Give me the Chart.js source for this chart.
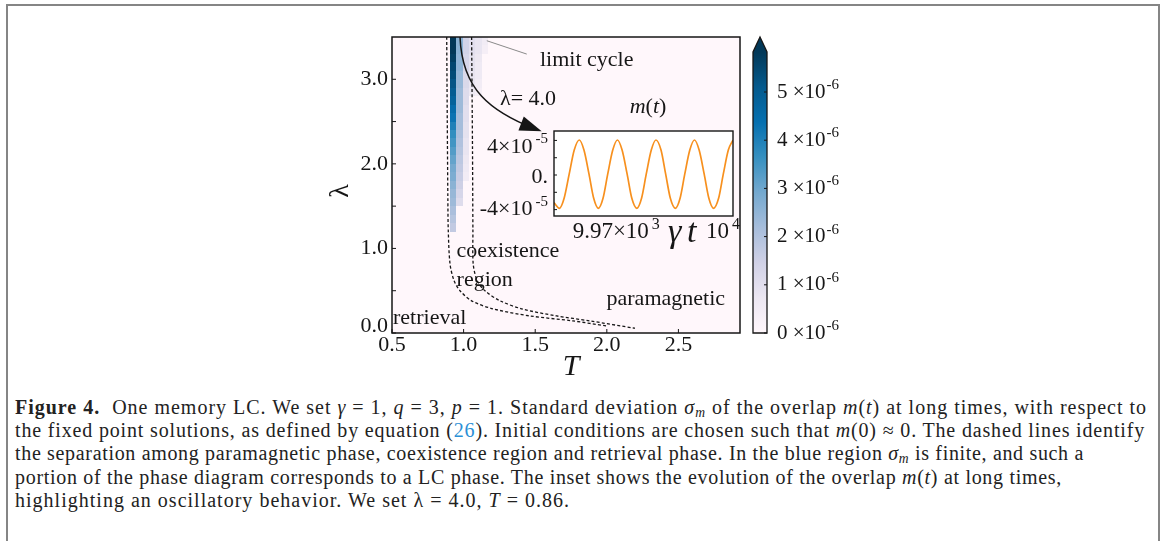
<!DOCTYPE html>
<html>
<head>
<meta charset="utf-8">
<script src="https://cdn.jsdelivr.net/npm/chart.js@4.4.1/dist/chart.umd.min.js"></script>
<style>
  html, body { margin: 0; padding: 0; background: #fff; width: 1165px; height: 541px; overflow: hidden; }
  #frame { position: absolute; left: 6px; top: 4px; width: 1154px; height: 600px; border: 2px solid #858585; border-bottom: none; box-sizing: border-box; }
  canvas { position: absolute; }
  #main { left: 0; top: 0; }
  #inset { left: 470px; top: 110px; }
  #cbar { left: 740px; top: 30px; }
  #caption { position: absolute; left: 15px; top: 396px; font-family: "Liberation Serif", serif; font-size: 20px; line-height: 23.2px; color: #222; }
  #caption div { white-space: nowrap; }
  #caption sub { font-size: 0.68em; vertical-align: -0.22em; line-height: 0; }
  .ref { color: #2b8fd6; }
</style>
</head>
<body>
<div id="frame"></div>
<canvas id="main" width="1165" height="390"></canvas>
<canvas id="inset" width="290" height="150"></canvas>
<canvas id="cbar" width="130" height="320"></canvas>
<div id="caption">
  <div><span><b>Figure 4.</b>&nbsp; One memory LC. We set <i>γ</i> = 1, <i>q</i> = 3, <i>p</i> = 1. Standard deviation <i>σ<sub>m</sub></i> of the overlap <i>m</i>(<i>t</i>) at long times, with respect to</span></div>
  <div><span>the fixed point solutions, as defined by equation (<span class="ref">26</span>). Initial conditions are chosen such that <i>m</i>(0) ≈ 0. The dashed lines identify</span></div>
  <div><span>the separation among paramagnetic phase, coexistence region and retrieval phase. In the blue region <i>σ<sub>m</sub></i> is finite, and such a</span></div>
  <div><span>portion of the phase diagram corresponds to a LC phase. The inset shows the evolution of the overlap <i>m</i>(<i>t</i>) at long times,</span></div>
  <div><span>highlighting an oscillatory behavior. We set λ = 4.0, <i>T</i> = 0.86.</span></div>
</div>
<script>
// axis ticks of the phase diagram
const tempTicks = [0.5, 1.0, 1.5, 2.0, 2.5];
const tempLabels = ['0.5', '1.0', '1.5', '2.0', '2.5'];
const lambdaTicks = [0, 0.5, 1, 1.5, 2, 2.5, 3];
const lambdaLabels = ['0.0', '', '1.0', '', '2.0', '', '3.0'];

// dashed boundaries (T, lambda)
const retrievalT = [0.882, 0.886, 0.890, 0.893, 0.905, 0.933, 0.975, 1.056, 1.205, 1.463, 1.763, 2.000];
const retrievalLam = [3.50, 2.50, 1.60, 1.21, 0.82, 0.62, 0.50, 0.38, 0.286, 0.202, 0.143, 0.083];
const paraT = [1.056, 1.062, 1.065, 1.067, 1.095, 1.149, 1.254, 1.414, 1.649, 1.882, 2.196];
const paraLam = [3.50, 2.20, 1.20, 0.818, 0.619, 0.50, 0.381, 0.282, 0.202, 0.143, 0.056];

// sigma_m heat cells (units of 1e-6): column centres in T, row centres in lambda
const heatT = [0.927, 0.971, 1.015, 1.059, 1.103, 1.147];
const heatLam = [3.45, 3.35, 3.25, 3.15, 3.05, 2.95, 2.85, 2.75, 2.65, 2.55, 2.45, 2.35,
                 2.25, 2.15, 2.05, 1.95, 1.85, 1.75, 1.65, 1.55, 1.45, 1.35, 1.25];
const sigma0 = [6.0, 5.9, 5.7, 5.5, 5.4, 5.2, 5.0, 4.8, 4.5, 4.3, 4.0, 3.7, 3.5, 3.3, 3.1, 2.9, 2.8, 2.6, 2.4, 2.3, 2.1, 1.9, 1.7];
const sigma1 = [2.6, 2.6, 2.5, 2.5, 2.4, 2.4, 2.3, 2.3, 2.3, 2.2, 2.2, 2.1, 2.0, 1.9, 1.8, 1.7, 1.6, 1.5, 1.3, 1.1, 0, 0, 0];
const sigma2 = [1.4, 1.4, 1.3, 1.3, 1.2, 1.2, 1.1, 1.1, 1.0, 1.0, 0.9, 0.9, 0.8, 0.8, 0.7, 0.6, 0.5, 0, 0, 0, 0, 0, 0];
const sigma3 = [1.0, 1.0, 0.9, 0.9, 0.8, 0.8, 0.7, 0, 0, 0, 0, 0, 0, 0, 0, 0, 0, 0, 0, 0, 0, 0, 0];
const sigma4 = [0.8, 0.8, 0.7, 0.6, 0.6, 0.5, 0.4, 0, 0, 0, 0, 0, 0, 0, 0, 0, 0, 0, 0, 0, 0, 0, 0];
const sigma5 = [0.5, 0.4, 0, 0, 0, 0, 0, 0, 0, 0, 0, 0, 0, 0, 0, 0, 0, 0, 0, 0, 0, 0, 0];
const sigmaCols = [sigma0, sigma1, sigma2, sigma3, sigma4, sigma5];

// colour bar
const cbMax = 5.83;
const cbTicks = [0, 1, 2, 3, 4, 5];

// inset m(t), m in units of 1e-5
const insetTime = [9954.0,
  9955.4, 9956.6, 9957.9, 9959.2, 9960.5, 9961.7, 9963.0, 9964.2,
  9965.4, 9966.6, 9967.8, 9969.1, 9970.3, 9971.5, 9972.8, 9974.0,
  9975.3, 9976.5, 9977.7, 9979.0, 9980.2, 9981.5, 9982.7, 9983.9,
  9985.2, 9986.4, 9987.6, 9988.9, 9990.1, 9991.3, 9992.6, 9993.8,
  9995.0, 9996.3, 9997.5, 9998.8, 10000.0];
const insetM = [-3.2,
  -3.85, -2.69, 0.1, 2.89, 4.05, 2.89, 0.1, -2.69,
  -3.85, -2.69, 0.1, 2.89, 4.05, 2.89, 0.1, -2.69,
  -3.85, -2.69, 0.1, 2.89, 4.05, 2.89, 0.1, -2.69,
  -3.85, -2.69, 0.1, 2.89, 4.05, 2.89, 0.1, -2.69,
  -3.85, -2.69, 0.1, 2.89, 4.05];
const insetYTicks = [-4, -2, 0, 2, 4];
const insetYLabelVals = [4, 0, -4];
const insetYLabels = ['4×10', '0.', '-4×10'];
const insetYSups = ['-5', '', '-5'];
const insetXLabelVals = [9970, 10000];
const insetXLabels = ['9.97×10', '10'];
const insetXSups = ['3', '4'];

// caption line widths in the reference layout
const captionWidths = [1132, 1130, 1069, 1047, 555];

const FONT = '"Liberation Serif", "Times New Roman", serif';
Chart.defaults.font.family = FONT;
const INK = '#161616';

const puBu = ['#fff7fb', '#ece7f2', '#d0d1e6', '#a6bddb', '#74a9cf', '#3690c0', '#0570b0', '#045a8d', '#023858'];
function hex(c) { return [1, 3, 5].map(i => parseInt(c.substr(i, 2), 16)); }
function colorFor(v) {
  const f = Math.max(0, Math.min(1, v / cbMax)) * 8;
  const i = Math.min(7, Math.floor(f)), t = f - i;
  const a = hex(puBu[i]), b = hex(puBu[i + 1]);
  return 'rgb(' + a.map((c, k) => Math.round(c + (b[k] - c) * t)).join(',') + ')';
}

function drawSup(ctx, base, sup, x, y, size, supSize, align, gap, rise) {
  ctx.save();
  ctx.textBaseline = 'middle';
  ctx.textAlign = 'left';
  ctx.font = size + 'px ' + FONT;
  const wb = ctx.measureText(base).width;
  ctx.font = supSize + 'px ' + FONT;
  const ws = sup ? ctx.measureText(sup).width + gap : 0;
  let x0 = x;
  if (align === 'right') x0 = x - wb - ws;
  else if (align === 'center') x0 = x - (wb + ws) / 2;
  ctx.font = size + 'px ' + FONT;
  ctx.fillText(base, x0, y);
  if (sup) {
    ctx.font = supSize + 'px ' + FONT;
    ctx.fillText(sup, x0 + wb + gap, y - rise);
  }
  ctx.restore();
}

function drawRuns(ctx, runs, x, y, size) {
  let cx = x;
  runs.forEach(([txt, it]) => {
    ctx.font = (it ? 'italic ' : '') + size + 'px ' + FONT;
    ctx.fillText(txt, cx, y);
    cx += ctx.measureText(txt).width;
  });
}

const mainDecor = {
  id: 'mainDecor',
  beforeDatasetsDraw(chart) {
    const { ctx, chartArea: a, scales: { x, y } } = chart;
    ctx.save();
    ctx.fillStyle = puBu[0];
    ctx.fillRect(a.left, a.top, a.width, a.height);
    const hw = (heatT[1] - heatT[0]) / 2, hh = (heatLam[0] - heatLam[1]) / 2;
    sigmaCols.forEach((col, c) => col.forEach((v, r) => {
      if (!v) return;
      const x0 = Math.round(x.getPixelForValue(heatT[c] - hw));
      const x1 = Math.round(x.getPixelForValue(heatT[c] + hw));
      const y0 = Math.max(a.top, Math.round(y.getPixelForValue(heatLam[r] + hh)));
      const y1 = Math.round(y.getPixelForValue(heatLam[r] - hh));
      ctx.fillStyle = colorFor(v);
      ctx.fillRect(x0, y0, x1 - x0, y1 - y0);
    }));
    ctx.restore();
  },
  afterDatasetsDraw(chart) {
    const { ctx, chartArea: a, scales: { x, y } } = chart;
    const px = t => x.getPixelForValue(t), py = l => y.getPixelForValue(l);
    ctx.save();
    ctx.strokeStyle = INK;
    ctx.fillStyle = INK;
    ctx.lineWidth = 1.5;
    ctx.strokeRect(a.left, a.top, a.width, a.height);

    // inward ticks and tick labels
    ctx.lineWidth = 1;
    ctx.font = '22px ' + FONT;
    ctx.textBaseline = 'middle';
    ctx.textAlign = 'center';
    tempTicks.forEach((t, i) => {
      const xx = px(t);
      ctx.beginPath(); ctx.moveTo(xx, a.bottom); ctx.lineTo(xx, a.bottom - 4); ctx.stroke();
      ctx.fillText(tempLabels[i], xx, a.bottom + 12);
    });
    ctx.textAlign = 'right';
    lambdaTicks.forEach((l, i) => {
      const yy = py(l);
      ctx.beginPath(); ctx.moveTo(a.left, yy); ctx.lineTo(a.left + 4, yy); ctx.stroke();
      if (lambdaLabels[i]) ctx.fillText(lambdaLabels[i], a.left - 4, Math.min(yy, a.bottom - 7));
    });

    // axis titles
    ctx.textAlign = 'center';
    ctx.font = 'italic 30px ' + FONT;
    ctx.fillText('T', a.left + 179, a.bottom + 34);
    ctx.save();
    ctx.translate(a.left - 51, (a.top + a.bottom) / 2 + 6);
    ctx.rotate(-Math.PI / 2);
    ctx.font = '28px ' + FONT;
    ctx.fillText('λ', 0, 0);
    ctx.restore();

    // region labels
    ctx.textAlign = 'left';
    ctx.font = '22px ' + FONT;
    ctx.fillText('limit cycle', px(1.533), py(3.226));
    ctx.fillText('λ= 4.0', px(1.254), py(2.76));
    ctx.fillText('coexistence', px(0.951), py(0.964));
    ctx.fillText('region', px(0.951), py(0.627));
    ctx.fillText('paramagnetic', px(1.998), py(0.405));
    ctx.fillText('retrieval', px(0.507), py(0.18));
    drawRuns(ctx, [['m', true], ['(', false], ['t', true], [')', false]], px(2.16), py(2.667), 22);

    // pointer to the limit cycle
    ctx.strokeStyle = '#8a8a8a';
    ctx.lineWidth = 1;
    ctx.beginPath(); ctx.moveTo(px(1.162), py(3.456)); ctx.lineTo(px(1.441), py(3.298)); ctx.stroke();

    // curved arrow to the inset
    const P = [[0.975, 3.5], [0.989, 2.881], [1.184, 2.619], [1.545, 2.385]].map(([t, l]) => [px(t), py(l)]);
    ctx.strokeStyle = INK;
    ctx.lineWidth = 1.5;
    ctx.beginPath();
    ctx.moveTo(P[0][0], P[0][1]);
    ctx.bezierCurveTo(P[1][0], P[1][1], P[2][0], P[2][1], P[3][0] - 6, P[3][1] - 2);
    ctx.stroke();
    const dx = P[3][0] - P[2][0], dy = P[3][1] - P[2][1], d = Math.hypot(dx, dy);
    const ux = dx / d, uy = dy / d, L = 22, W = 7.5;
    ctx.beginPath();
    ctx.moveTo(P[3][0], P[3][1]);
    ctx.lineTo(P[3][0] - L * ux - W * uy, P[3][1] - L * uy + W * ux);
    ctx.lineTo(P[3][0] - L * ux + W * uy, P[3][1] - L * uy - W * ux);
    ctx.closePath();
    ctx.fill();
    ctx.restore();
  }
};

function boundary(ts, ls) {
  return {
    data: ts.map((t, i) => ({ x: t, y: ls[i] })),
    showLine: true,
    borderColor: INK,
    borderWidth: 1.3,
    borderDash: [3, 2.2],
    pointRadius: 0,
    tension: 0.3,
    fill: false
  };
}

new Chart(document.getElementById('main'), {
  type: 'scatter',
  data: { datasets: [boundary(retrievalT, retrievalLam), boundary(paraT, paraLam)] },
  options: {
    responsive: false,
    animation: false,
    events: [],
    layout: { padding: { left: 392, top: 37, right: 425, bottom: 57 } },
    plugins: { legend: { display: false }, tooltip: { enabled: false } },
    scales: {
      x: { type: 'linear', min: 0.5, max: 2.93, display: false },
      y: { type: 'linear', min: 0, max: 3.5, display: false }
    }
  },
  plugins: [mainDecor]
});

const insetDecor = {
  id: 'insetDecor',
  beforeDatasetsDraw(chart) {
    const { ctx, chartArea: a } = chart;
    ctx.save();
    ctx.fillStyle = '#ffffff';
    ctx.fillRect(a.left, a.top, a.width, a.height);
    ctx.restore();
  },
  afterDatasetsDraw(chart) {
    const { ctx, chartArea: a, scales: { x, y } } = chart;
    ctx.save();
    ctx.strokeStyle = INK;
    ctx.fillStyle = INK;
    ctx.lineWidth = 1.4;
    ctx.strokeRect(a.left, a.top, a.width, a.height);
    ctx.lineWidth = 1;
    insetYTicks.forEach(v => {
      const yy = y.getPixelForValue(v);
      ctx.beginPath(); ctx.moveTo(a.left, yy); ctx.lineTo(a.left + 3, yy); ctx.stroke();
    });
    insetYLabelVals.forEach((v, i) => {
      const yy = y.getPixelForValue(v) + (v > 0 ? 7 : v === 0 ? 2 : 0);
      drawSup(ctx, insetYLabels[i], insetYSups[i], a.left - 6, yy, 22, 15, 'right', 3, 8);
    });
    insetXLabelVals.forEach((v, i) => {
      const xx = x.getPixelForValue(v) - (i === 1 ? 10 : 0);
      drawSup(ctx, insetXLabels[i], insetXSups[i], xx, a.bottom + 16, 23, 16, 'center', 3, 7);
    });
    ctx.textBaseline = 'alphabetic';
    ctx.textAlign = 'left';
    ctx.font = 'italic 34px ' + FONT;
    const gx = x.getPixelForValue(9983.3);
    ctx.fillText('γ', gx, a.bottom + 26);
    ctx.fillText('t', gx + 19, a.bottom + 26);
    ctx.restore();
  }
};

new Chart(document.getElementById('inset'), {
  type: 'line',
  data: {
    datasets: [{
      data: insetTime.map((t, i) => ({ x: t, y: insetM[i] })),
      borderColor: '#f7901e',
      borderWidth: 1.7,
      pointRadius: 0,
      cubicInterpolationMode: 'monotone',
      fill: false
    }]
  },
  options: {
    responsive: false,
    animation: false,
    events: [],
    layout: { padding: { left: 84, top: 21, right: 27, bottom: 44 } },
    plugins: { legend: { display: false }, tooltip: { enabled: false } },
    scales: {
      x: { type: 'linear', min: 9954, max: 10000, display: false },
      y: { type: 'linear', min: -4.74, max: 5.09, display: false }
    }
  },
  plugins: [insetDecor]
});

const cbarDecor = {
  id: 'cbarDecor',
  afterDatasetsDraw(chart) {
    const { ctx, chartArea: a, scales: { y } } = chart;
    const mid = (a.left + a.right) / 2;
    ctx.save();
    ctx.fillStyle = puBu[8];
    ctx.beginPath();
    ctx.moveTo(a.left, a.top); ctx.lineTo(mid, a.top - 15); ctx.lineTo(a.right, a.top); ctx.closePath();
    ctx.fill();
    ctx.strokeStyle = INK;
    ctx.lineWidth = 1.3;
    ctx.beginPath();
    ctx.moveTo(a.left, a.bottom); ctx.lineTo(a.left, a.top); ctx.lineTo(mid, a.top - 15);
    ctx.lineTo(a.right, a.top); ctx.lineTo(a.right, a.bottom); ctx.closePath();
    ctx.stroke();
    ctx.lineWidth = 1;
    ctx.fillStyle = INK;
    cbTicks.forEach(v => {
      const yy = y.getPixelForValue(v);
      ctx.beginPath(); ctx.moveTo(a.right, yy); ctx.lineTo(a.right - 3, yy); ctx.stroke();
      drawSup(ctx, v + ' ×10', '-6', a.right + 10, yy, 21, 15, 'left', 1, 7);
    });
    ctx.restore();
  }
};

new Chart(document.getElementById('cbar'), {
  type: 'bar',
  data: {
    labels: ['σm'],
    datasets: [{
      data: [cbMax],
      borderWidth: 0,
      barPercentage: 1,
      categoryPercentage: 1,
      backgroundColor(c) {
        const area = c.chart.chartArea;
        if (!area) return puBu[4];
        const g = c.chart.ctx.createLinearGradient(0, area.bottom, 0, area.top);
        puBu.forEach((col, i) => g.addColorStop(i / 8, col));
        return g;
      }
    }]
  },
  options: {
    responsive: false,
    animation: false,
    events: [],
    layout: { padding: { left: 13, top: 22, right: 103, bottom: 17 } },
    plugins: { legend: { display: false }, tooltip: { enabled: false } },
    scales: {
      x: { display: false },
      y: { min: 0, max: cbMax, display: false }
    }
  },
  plugins: [cbarDecor]
});

// fit each caption line to its width in the reference
document.querySelectorAll('#caption > div > span').forEach((line, i) => {
  const w = line.getBoundingClientRect().width;
  line.style.letterSpacing = ((captionWidths[i] - w) / line.textContent.length) + 'px';
});
</script>
</body>
</html>
